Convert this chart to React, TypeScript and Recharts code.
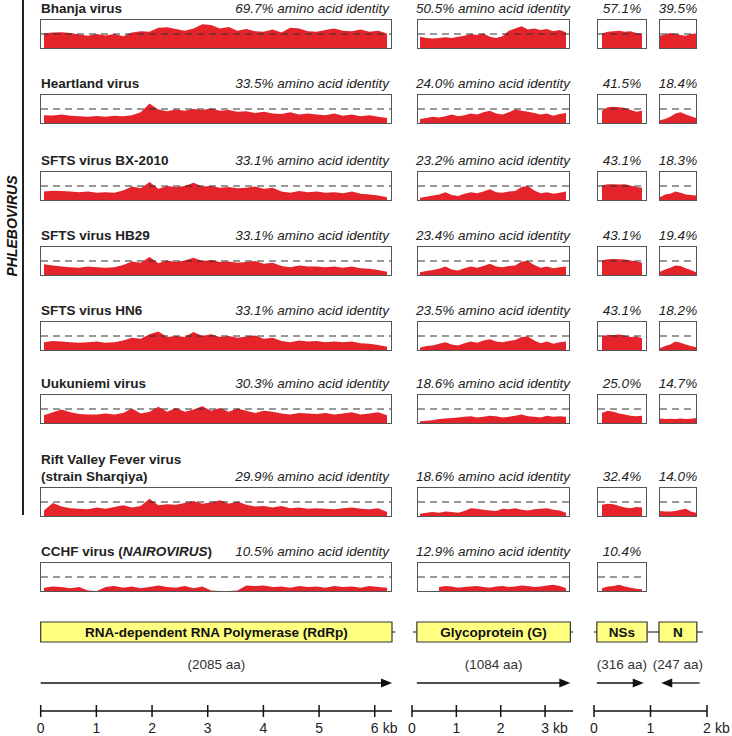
import React from "react";
import {
  AreaChart,
  Area,
  ComposedChart,
  XAxis,
  YAxis,
  ReferenceLine,
  ReferenceArea,
  ReferenceDot,
} from "recharts";

const RED = "#e5232a";
const YELLOW = "#ffff80";
const FONT = '"Liberation Sans", Arial, sans-serif';

// virus rows
const VIRUSES = [
  "Bhanja virus",
  "Heartland virus",
  "SFTS virus BX-2010",
  "SFTS virus HB29",
  "SFTS virus HN6",
  "Uukuniemi virus",
  "Rift Valley Fever virus|(strain Sharqiya)",
  "CCHF virus (|NAIROVIRUS|)",
];
const RDRP_ID = [69.7, 33.5, 33.1, 33.1, 33.1, 30.3, 29.9, 10.5];
const G_ID = [50.5, 24.0, 23.2, 23.4, 23.5, 18.6, 18.6, 12.9];
const NSS_ID = [57.1, 41.5, 43.1, 43.1, 43.1, 25.0, 32.4, 10.4];
const N_ID = [39.5, 18.4, 18.3, 19.4, 18.2, 14.7, 14.0, null];

// identity profiles (% of panel height), read along each protein
const RDRP_BHANJA = [52, 55, 56, 54, 48, 44, 50, 45, 50, 42, 55, 60, 58, 72, 74, 68, 62, 70, 85, 82, 70, 75, 62, 68, 60, 58, 66, 55, 72, 70, 60, 58, 64, 70, 62, 60, 66, 58, 62, 52];
const RDRP_HEARTLAND = [28, 27, 30, 26, 24, 22, 25, 22, 26, 24, 28, 38, 70, 48, 42, 48, 44, 50, 46, 52, 44, 46, 40, 42, 36, 40, 34, 32, 38, 30, 34, 30, 28, 34, 26, 30, 24, 28, 22, 18];
const RDRP_SFTS_BX = [30, 33, 32, 30, 28, 30, 26, 28, 26, 34, 48, 42, 64, 40, 50, 46, 50, 62, 48, 50, 44, 46, 42, 44, 48, 40, 44, 30, 26, 32, 28, 30, 26, 28, 24, 30, 22, 20, 16, 10];
const RDRP_SFTS_HB29 = [38, 34, 30, 28, 26, 30, 28, 26, 28, 36, 48, 44, 64, 42, 52, 46, 52, 62, 50, 54, 46, 48, 44, 46, 50, 40, 44, 32, 28, 34, 30, 30, 28, 30, 26, 30, 24, 22, 18, 12];
const RDRP_SFTS_HN6 = [28, 32, 30, 28, 26, 28, 30, 26, 28, 34, 44, 40, 56, 66, 46, 50, 46, 64, 50, 56, 46, 50, 44, 48, 52, 40, 44, 32, 28, 34, 30, 32, 28, 30, 28, 30, 24, 22, 18, 12];
const RDRP_UUKUNIEMI = [28, 38, 48, 38, 32, 30, 30, 34, 30, 36, 52, 34, 40, 58, 40, 54, 40, 48, 60, 44, 54, 40, 52, 44, 36, 44, 40, 34, 30, 36, 34, 32, 36, 30, 34, 38, 30, 34, 38, 28];
const RDRP_RVF = [20, 46, 34, 28, 26, 24, 30, 26, 32, 38, 30, 36, 62, 38, 42, 40, 46, 54, 44, 48, 56, 44, 52, 40, 34, 36, 30, 36, 28, 30, 26, 28, 26, 24, 28, 30, 26, 24, 28, 14];
const RDRP_CCHF = [12, 16, 14, 10, 14, 2, 0, 14, 18, 12, 16, 10, 14, 20, 14, 12, 18, 10, 16, 2, 0, 0, 2, 20, 18, 20, 14, 16, 12, 18, 14, 16, 12, 18, 14, 16, 12, 18, 14, 12];

const G_BHANJA = [40, 36, 34, 36, 38, 36, 40, 44, 50, 46, 52, 40, 36, 42, 62, 70, 78, 66, 70, 64, 68, 60, 64, 56];
const G_HEARTLAND = [14, 18, 22, 20, 24, 30, 24, 28, 34, 30, 38, 44, 34, 30, 38, 48, 44, 40, 36, 30, 34, 26, 32, 36];
const G_SFTS_BX = [8, 12, 16, 20, 28, 18, 14, 22, 28, 24, 30, 38, 28, 26, 30, 32, 46, 50, 34, 24, 28, 22, 26, 30];
const G_SFTS_HB29 = [10, 14, 18, 22, 30, 20, 16, 24, 30, 26, 32, 40, 30, 28, 32, 34, 48, 50, 36, 26, 30, 24, 28, 30];
const G_SFTS_HN6 = [8, 14, 16, 22, 28, 20, 16, 24, 30, 26, 34, 38, 30, 28, 32, 36, 46, 48, 34, 24, 30, 22, 28, 30];
const G_UUKUNIEMI = [6, 8, 10, 14, 16, 18, 20, 22, 24, 20, 22, 26, 24, 20, 22, 26, 30, 24, 22, 20, 26, 22, 24, 22];
const G_RVF = [8, 12, 14, 12, 16, 14, 12, 18, 28, 26, 22, 20, 18, 26, 24, 28, 22, 20, 24, 26, 28, 22, 20, 12];
const G_CCHF = [null, null, null, 14, 18, 16, 12, 14, 16, 18, 14, 12, 16, 18, 14, 16, 20, 18, 14, 16, 20, 22, 18, 10];

const NSS_BHANJA = [52, 58, 60, 62, 58, 60, 54, 52];
const NSS_HEARTLAND = [44, 56, 58, 56, 54, 46, 40, 44];
const NSS_SFTS_BX = [52, 56, 56, 55, 56, 52, 46, 44];
const NSS_SFTS_HB29 = [52, 56, 57, 56, 55, 52, 48, 44];
const NSS_SFTS_HN6 = [48, 54, 54, 55, 52, 46, 48, 42];
const NSS_UUKUNIEMI = [36, 44, 40, 34, 30, 26, 24, 26];
const NSS_RVF = [40, 44, 42, 36, 30, 28, 32, 30];
const NSS_CCHF = [10, 16, 18, 22, 16, 12, 8, 6];

const N_BHANJA = [44, 48, 54, 50, 46, 44, 50, 52];
const N_HEARTLAND = [10, 14, 22, 34, 38, 30, 24, 18];
const N_SFTS_BX = [10, 20, 22, 30, 26, 20, 18, 16];
const N_SFTS_HB29 = [12, 20, 26, 34, 32, 24, 18, 10];
const N_SFTS_HN6 = [6, 14, 20, 30, 26, 20, 14, 10];
const N_UUKUNIEMI = [16, 14, 15, 14, 16, 14, 15, 18];
const N_RVF = [18, 16, 16, 18, 22, 26, 16, 12];

const RDRP_PROFILES = [RDRP_BHANJA, RDRP_HEARTLAND, RDRP_SFTS_BX, RDRP_SFTS_HB29, RDRP_SFTS_HN6, RDRP_UUKUNIEMI, RDRP_RVF, RDRP_CCHF];
const G_PROFILES = [G_BHANJA, G_HEARTLAND, G_SFTS_BX, G_SFTS_HB29, G_SFTS_HN6, G_UUKUNIEMI, G_RVF, G_CCHF];
const NSS_PROFILES = [NSS_BHANJA, NSS_HEARTLAND, NSS_SFTS_BX, NSS_SFTS_HB29, NSS_SFTS_HN6, NSS_UUKUNIEMI, NSS_RVF, NSS_CCHF];
const N_PROFILES = [N_BHANJA, N_HEARTLAND, N_SFTS_BX, N_SFTS_HB29, N_SFTS_HN6, N_UUKUNIEMI, N_RVF, null];

// genome segments (kb)
const L_TICKS = [0, 1, 2, 3, 4, 5, 6];
const M_TICKS = [0, 1, 2, 3];
const S_TICKS = [0, 1, 2];
const L_GENES = [{ name: "RNA-dependent RNA Polymerase (RdRp)", start: 0, end: 6.31, aa: 2085, from: 0, to: 6.31 }];
const M_GENES = [{ name: "Glycoprotein (G)", start: 0.11, end: 3.57, aa: 1084, from: 0.11, to: 3.57 }];
const S_GENES = [
  { name: "NSs", start: 0.05, end: 0.94, aa: 316, from: 0.05, to: 0.88 },
  { name: "N", start: 1.15, end: 1.82, aa: 247, from: 1.87, to: 1.19 },
];
const L_LINKS = [[6.31, 6.37]];
const M_LINKS = [[0.02, 0.11], [3.57, 3.63]];
const S_LINKS = [[0, 0.05], [0.94, 1.15], [1.82, 1.93]];

const ROW_TOPS = [19, 94, 171, 246, 321, 394, 487, 562];
const BOX_H = 30;

function Panel({ values, left, top, width, padL, padR }: any) {
  const n = values.length;
  const inner = width - 2;
  const step = (inner - padL - padR) / (n - 1);
  const data = values.map((v: number | null, i: number) => ({ i, v }));
  return (
    <div
      style={{
        position: "absolute",
        left,
        top,
        width,
        height: BOX_H,
        border: "1px solid #555",
        boxSizing: "border-box",
      }}
    >
      <AreaChart width={inner} height={BOX_H - 2} data={data} margin={{ top: 0, right: 0, bottom: 0, left: 0 }}>
        <XAxis dataKey="i" type="number" domain={[-padL / step, n - 1 + padR / step]} hide allowDataOverflow />
        <YAxis type="number" domain={[0, 100]} hide allowDataOverflow />
        <Area type="linear" dataKey="v" stroke="none" fill={RED} fillOpacity={1} isAnimationActive={false} />
        <ReferenceLine y={50} stroke="#333" strokeDasharray="7 5" />
      </AreaChart>
    </div>
  );
}

function KbTick({ x, y, payload, last }: any) {
  return (
    <g>
      <line x1={x} x2={x} y1={y - 12} y2={y} stroke="#111" strokeWidth={1.5} />
      <text x={x} y={y + 16} textAnchor="middle" fontSize={14} fill="#222">
        {payload.value}
      </text>
      {payload.value === last && (
        <text x={x + 8} y={y + 16} fontSize={14} fill="#222">
          kb
        </text>
      )}
    </g>
  );
}

function renderArrow(p: any) {
  const { x1, y1, x2, y2 } = p;
  const s = x2 > x1 ? 1 : -1;
  return (
    <g>
      <line x1={x1} y1={y1} x2={x2 - s * 8} y2={y2} stroke="#111" strokeWidth={1.3} />
      <polygon points={`${x2},${y2} ${x2 - s * 11},${y2 - 4.5} ${x2 - s * 11},${y2 + 4.5}`} fill="#111" />
    </g>
  );
}

function GeneTrack({ left, width, padL, padR, max, ticks, genes, links }: any) {
  const last = ticks[ticks.length - 1];
  return (
    <div style={{ position: "absolute", left, top: 612 }}>
      <ComposedChart
        width={width}
        height={124}
        data={ticks.map((kb: number) => ({ kb }))}
        margin={{ top: 0, right: padR, bottom: 0, left: padL }}
      >
        <XAxis
          dataKey="kb"
          type="number"
          domain={[0, max]}
          ticks={ticks}
          interval={0}
          height={25}
          tickSize={6}
          tickMargin={0}
          tickLine={false}
          axisLine={{ stroke: "#111", strokeWidth: 1.5 }}
          tick={<KbTick last={last} />}
          allowDataOverflow
        />
        <YAxis type="number" domain={[0, 99]} reversed hide allowDataOverflow />
        {links.map(([a, b]: number[], i: number) => (
          <ReferenceLine
            key={"link" + i}
            segment={[{ x: a, y: 20 }, { x: b, y: 20 }]}
            stroke="#333"
            strokeWidth={1.2}
            ifOverflow="visible"
          />
        ))}
        {genes.map((g: any) => (
          <ReferenceArea
            key={g.name}
            x1={g.start}
            x2={g.end}
            y1={10}
            y2={30}
            fill={YELLOW}
            fillOpacity={1}
            stroke="#333"
            strokeWidth={1.2}
            ifOverflow="visible"
            label={{ value: g.name, position: "center", fill: "#111", fontSize: 13.5, fontWeight: 700 }}
          />
        ))}
        {genes.map((g: any) => (
          <ReferenceDot
            key={g.name + "-aa"}
            x={(g.start + g.end) / 2}
            y={52}
            r={0}
            ifOverflow="visible"
            label={{ value: `(${g.aa} aa)`, position: "center", fill: "#333", fontSize: 13.5 }}
          />
        ))}
        {genes.map((g: any) => (
          <ReferenceLine
            key={g.name + "-arrow"}
            segment={[{ x: g.from, y: 71 }, { x: g.to, y: 71 }]}
            ifOverflow="visible"
            shape={renderArrow}
          />
        ))}
      </ComposedChart>
    </div>
  );
}

function VirusName({ name }: { name: string }) {
  if (name.startsWith("CCHF")) {
    const [a, b, c] = name.split("|");
    return (
      <span>
        {a}
        <i>{b}</i>
        {c}
      </span>
    );
  }
  return (
    <>
      {name.split("|").map((line) => (
        <div key={line}>{line}</div>
      ))}
    </>
  );
}

export default function App() {
  const idStyle: React.CSSProperties = {
    position: "absolute",
    fontStyle: "italic",
    fontSize: 13.5,
    lineHeight: "17px",
    color: "#222",
    whiteSpace: "nowrap",
  };
  return (
    <div
      style={{
        position: "absolute",
        left: 0,
        top: 0,
        width: 732,
        height: 736,
        background: "#fff",
        fontFamily: FONT,
        overflow: "hidden",
      }}
    >
      <div style={{ position: "absolute", left: 22, top: 0, width: 2, height: 515, background: "#222" }} />
      <div
        style={{
          position: "absolute",
          left: 12 - 100,
          top: 226 - 9,
          width: 200,
          height: 18,
          lineHeight: "18px",
          textAlign: "center",
          transform: "rotate(-90deg)",
          fontWeight: 700,
          fontStyle: "italic",
          fontSize: 14,
          color: "#111",
        }}
      >
        PHLEBOVIRUS
      </div>

      {VIRUSES.map((name, r) => {
        const top = ROW_TOPS[r];
        const lines = name.startsWith("CCHF") ? 1 : name.split("|").length;
        const labelTop = top - 19;
        return (
          <React.Fragment key={name}>
            <div
              style={{
                position: "absolute",
                left: 41,
                top: labelTop - (lines - 1) * 17,
                fontWeight: 700,
                fontSize: 13.5,
                lineHeight: "17px",
                color: "#222",
                whiteSpace: "nowrap",
              }}
            >
              <VirusName name={name} />
            </div>
            <div style={{ ...idStyle, left: 189, top: labelTop, width: 200, textAlign: "right" }}>
              {RDRP_ID[r].toFixed(1)}% amino acid identity
            </div>
            <div style={{ ...idStyle, left: 393, top: labelTop, width: 200, textAlign: "center" }}>
              {G_ID[r].toFixed(1)}% amino acid identity
            </div>
            <div style={{ ...idStyle, left: 572, top: labelTop, width: 100, textAlign: "center" }}>
              {NSS_ID[r].toFixed(1)}%
            </div>
            {N_ID[r] != null && (
              <div style={{ ...idStyle, left: 628, top: labelTop, width: 100, textAlign: "center" }}>
                {(N_ID[r] as number).toFixed(1)}%
              </div>
            )}
            <Panel values={RDRP_PROFILES[r]} left={40} top={top} width={352} padL={3} padR={4} />
            <Panel values={G_PROFILES[r]} left={417} top={top} width={153} padL={2} padR={3} />
            <Panel values={NSS_PROFILES[r]} left={597} top={top} width={50} padL={4} padR={4} />
            {N_PROFILES[r] && <Panel values={N_PROFILES[r]} left={659} top={top} width={38} padL={0} padR={0} />}
          </React.Fragment>
        );
      })}

      <GeneTrack left={30} width={380} padL={10.7} padR={18} max={6.31} ticks={L_TICKS} genes={L_GENES} links={L_LINKS} />
      <GeneTrack left={400} width={190} padL={12} padR={17} max={3.63} ticks={M_TICKS} genes={M_GENES} links={M_LINKS} />
      <GeneTrack left={585} width={147} padL={9} padR={25} max={2} ticks={S_TICKS} genes={S_GENES} links={S_LINKS} />
    </div>
  );
}
